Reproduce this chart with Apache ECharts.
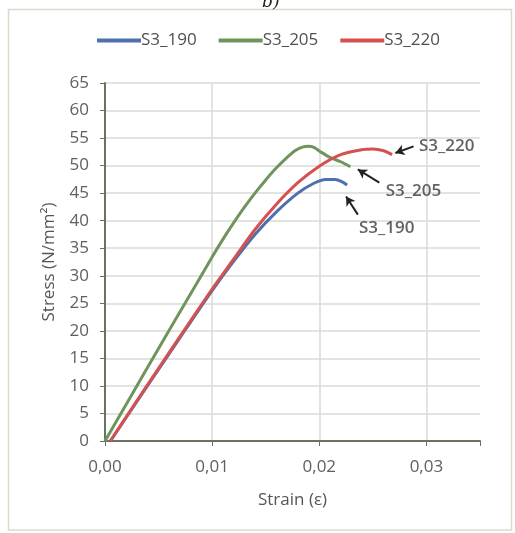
<!DOCTYPE html>
<html>
<head>
<meta charset="utf-8">
<script src="https://cdn.jsdelivr.net/npm/echarts@6/dist/echarts.min.js"></script>
<style>
html,body{margin:0;padding:0;background:#fff;}
#chart{width:515px;height:533px;}
</style>
</head>
<body>
<div id="chart"></div>
<script>
// ---- data ----
const seriesNames = ['S3_190', 'S3_205', 'S3_220'];

const strain190 = [0.0005, 0.0025, 0.005, 0.0075, 0.010, 0.012, 0.014, 0.016, 0.018, 0.0195, 0.0206, 0.0215, 0.0221, 0.0226];
const stress190 = [0, 5.8, 13.0, 20.2, 27.3, 32.6, 37.5, 41.6, 45.0, 46.8, 47.5, 47.5, 47.1, 46.5];

const strain205 = [0, 0.0025, 0.005, 0.0075, 0.010, 0.011, 0.012, 0.013, 0.014, 0.015, 0.016, 0.017, 0.0178, 0.0185, 0.019, 0.0195, 0.0202, 0.021, 0.022, 0.0229];
const stress205 = [0, 8.4, 16.8, 25.1, 33.4, 36.6, 39.6, 42.4, 45.0, 47.4, 49.6, 51.5, 52.8, 53.4, 53.5, 53.3, 52.4, 51.5, 50.7, 49.8];

const strain220 = [0.0005, 0.0025, 0.005, 0.0075, 0.010, 0.012, 0.014, 0.016, 0.018, 0.020, 0.022, 0.024, 0.025, 0.026, 0.0268];
const stress220 = [0, 5.9, 13.2, 20.4, 27.6, 33.0, 38.4, 43.0, 46.9, 49.9, 52.0, 52.9, 53.0, 52.7, 52.0];

// annotation labels and arrows (data coordinates)
const annotNames  = ['S3_220', 'S3_205', 'S3_190'];
const annotTextX  = [0.0293, 0.0262, 0.0237];
const annotTextY  = [53.6, 45.3, 38.6];
const arrowTailX  = [0.0288, 0.0256, 0.0236];
const arrowTailY  = [53.5, 46.9, 41.1];
const arrowHeadX  = [0.0271, 0.0236, 0.0225];
const arrowHeadY  = [52.3, 49.3, 44.4];

const xTicks = [0, 0.01, 0.02, 0.03];
const yMin = 0, yMax = 65, yStep = 5;
const xMin = 0, xMax = 0.035, xStep = 0.01;

// ---- build ----
const pairs = (xs, ys) => xs.map((x, i) => [x, ys[i]]);
const colors = ['#4e70ad', '#6f955c', '#d65050'];
const font = '"Open Sans", sans-serif';

const lineSeries = [
  {name: seriesNames[0], data: pairs(strain190, stress190)},
  {name: seriesNames[1], data: pairs(strain205, stress205)},
  {name: seriesNames[2], data: pairs(strain220, stress220)}
].map((s, i) => ({
  type: 'line', name: s.name, data: s.data, smooth: 0.3, showSymbol: false,
  lineStyle: {width: 3, color: colors[i]}, itemStyle: {color: colors[i]}, z: 3 + i
}));

const arrowData = annotNames.map((n, i) => [
  {coord: [arrowTailX[i], arrowTailY[i]], symbol: 'none'},
  {coord: [arrowHeadX[i], arrowHeadY[i]], symbol: 'arrow'}
]);

const annotSeries = {
  type: 'scatter', name: 'annot', symbolSize: 0, silent: true,
  data: annotNames.map((n, i) => ({name: n, value: [annotTextX[i], annotTextY[i]]})),
  label: {show: true, position: 'right', distance: 0, formatter: p => p.name,
          color: '#3a3a3a', fontFamily: font, fontSize: 17, fontWeight: 600},
  markLine: {
    silent: true, animation: false, symbolSize: [8, 9],
    lineStyle: {color: '#222', width: 2, type: 'solid'},
    label: {show: false},
    data: arrowData
  },
  z: 10
};

const chart = echarts.init(document.getElementById('chart'), null, {renderer: 'canvas'});
chart.setOption({
  animation: false,
  backgroundColor: '#fff',
  title: {text: 'b)', left: 257, top: -11,
          textStyle: {fontFamily: 'DejaVu Serif, serif', fontStyle: 'italic', fontWeight: 'normal', fontSize: 17, color: '#222'}},
  graphic: [{type: 'rect', shape: {x: 8.5, y: 9.5, width: 503, height: 520.5},
             style: {fill: 'none', stroke: '#d8dccb', lineWidth: 1.5}, silent: true}],
  legend: {data: seriesNames, top: 27, left: 92, itemWidth: 44, itemHeight: 4, itemGap: 22,
           icon: 'rect', textStyle: {fontFamily: font, fontSize: 17, color: '#505050', padding: [0, 0, 0, -5]}},
  grid: {left: 105, right: 35, top: 83, bottom: 92},
  xAxis: {
    type: 'value', min: xMin, max: xMax, interval: xStep,
    name: 'Strain (ε)', nameLocation: 'middle', nameGap: 51,
    nameTextStyle: {fontFamily: font, fontSize: 17, color: '#555'},
    axisLine: {show: true, onZero: false, lineStyle: {color: '#6a7360', width: 2}},
    axisTick: {show: true, inside: false, length: 5, lineStyle: {color: '#6a7360'}},
    axisLabel: {fontFamily: font, fontSize: 17, color: '#606060', margin: 18,
      formatter: v => xTicks.some(t => Math.abs(t - v) < 1e-9) ? v.toFixed(2).replace('.', ',') : ''},
    splitLine: {show: true, showMaxLine: false, lineStyle: {color: '#d9dbd6', width: 1.5}}
  },
  yAxis: {
    type: 'value', min: yMin, max: yMax, interval: yStep,
    name: 'Stress (N/mm²)', nameLocation: 'middle', nameGap: 47,
    nameTextStyle: {fontFamily: font, fontSize: 17, color: '#555'},
    axisLine: {show: true, lineStyle: {color: '#6a7360', width: 2}},
    axisTick: {show: true, inside: false, length: 5, lineStyle: {color: '#6a7360'}},
    axisLabel: {fontFamily: font, fontSize: 17, color: '#606060', margin: 16},
    splitLine: {show: true, lineStyle: {color: '#d9dbd6', width: 1.5}}
  },
  series: [...lineSeries, annotSeries]
});
</script>
</body>
</html>
